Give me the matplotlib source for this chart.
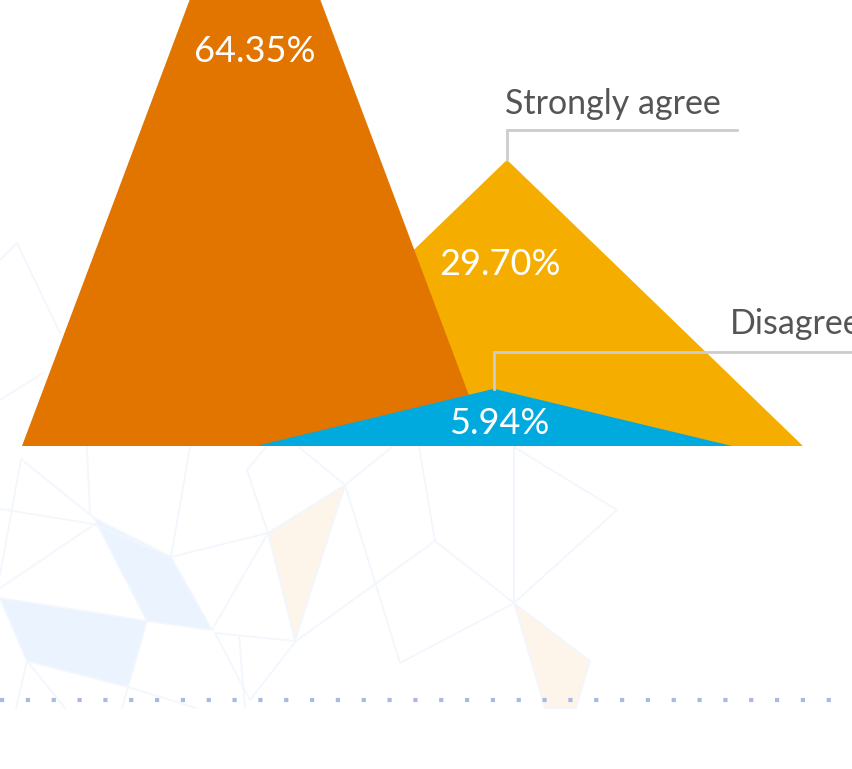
"""
Pointed-column chart (overlapping triangles) with faint polygon backdrop.
Output: out.png (853 x 769 px)
"""

import matplotlib
matplotlib.use("Agg")
import matplotlib.pyplot as plt
from matplotlib.patches import Polygon

# ── data ────────────────────────────────────────────────────────────────
CATEGORIES = ["Agree", "Strongly agree", "Disagree"]
VALUES     = [64.35, 29.70, 5.94]
LABELS     = ["64.35%", "29.70%", "5.94%"]
SHOW_NAME  = [False, True, True]

# ── layout (pixel-ish units on x, percent on y) ───────────────────────
W, H, DPI   = 853, 769, 100
BASE_PX     = 446            # baseline row in the picture
PX_PER_PCT  = 9.635          # column height scale
X_CENTER    = [255, 507, 494]
HALF_WIDTH  = [233, 296, 238]
LABEL_X     = [255, 500, 499]
LABEL_FRAC  = [0.641, 0.644, 0.445]   # label height as fraction of value
Z_ORDER     = [3, 2, 4]
NAME_ANCHOR = [None, (505, 104, 737, 130), (730, 324, 860, 352)]  # text x,y / line end x,y (px)

COLORS   = ["#E27400", "#F5AE00", "#00AADF"]
FONT     = ["Lato", "DejaVu Sans"]
LINE_COL = "#CCCCCC"
TEXT_COL = "#555555"
BG_LINE  = "#F2F7FD"
BG_BLUE  = "#EBF3FE"
BG_ORNG  = "#FDF4EA"
DOT_COL  = "#A9B9E6"

fig = plt.figure(figsize=(W / DPI, H / DPI), dpi=DPI)

# backdrop axes in pixel coordinates (y downwards)
bg = fig.add_axes([0, 0, 1, 1])
bg.set_xlim(0, W)
bg.set_ylim(H, 0)
bg.axis("off")

fills = [
    ([(0, 598), (147, 621), (128, 687), (27, 661)], BG_BLUE),
    ([(94, 518), (171, 557), (212, 630), (147, 621)], BG_BLUE),
    ([(268, 533), (345, 485), (295, 641)], BG_ORNG),
    ([(514, 603), (590, 661), (576, 708), (545, 708)], BG_ORNG),
]
for pts, col in fills:
    bg.add_patch(Polygon(pts, closed=True, facecolor=col, edgecolor=BG_LINE, lw=1.3, zorder=0))

segments = [
    [(0, 509), (94, 524), (171, 557), (268, 533), (212, 630)],
    [(21, 459), (94, 518)], [(21, 459), (0, 575)],
    [(87, 447), (90, 514)], [(190, 447), (171, 557)],
    [(247, 470), (268, 533)], [(247, 470), (266, 447)],
    [(345, 485), (299, 447)], [(345, 485), (392, 447)],
    [(345, 485), (400, 663), (514, 603)],
    [(514, 447), (514, 603)], [(514, 447), (617, 510), (514, 603)],
    [(435, 541), (514, 603)], [(435, 541), (419, 447)],
    [(435, 541), (296, 641), (215, 633), (250, 700), (296, 641)],
    [(239, 635), (245, 708)],
    [(95, 524), (0, 588)],
    [(27, 661), (16, 708)], [(27, 661), (65, 708)],
    [(128, 687), (196, 708)], [(128, 687), (122, 708)],
    [(0, 260), (17, 243), (60, 333)], [(0, 400), (43, 373)],
]
for seg in segments:
    xs, ys = zip(*seg)
    bg.plot(xs, ys, color=BG_LINE, lw=1.3, zorder=0, solid_capstyle="round")

bg.plot([0, W], [700, 700], color=DOT_COL, lw=3, ls=(0, (1, 5.2)), zorder=1)

# chart axes: x in px, y in percent with baseline at BASE_PX
ax = fig.add_axes([0, 0, 1, 1], facecolor="none")
ax.set_xlim(0, W)
ax.set_ylim(-(H - BASE_PX) / PX_PER_PCT, BASE_PX / PX_PER_PCT)
ax.axis("off")

for i, v in enumerate(VALUES):
    xc, hw = X_CENTER[i], HALF_WIDTH[i]
    tri = Polygon([(xc - hw, 0), (xc, v), (xc + hw, 0)], closed=True,
                  facecolor=COLORS[i], edgecolor="none", zorder=Z_ORDER[i])
    ax.add_patch(tri)
    ax.text(LABEL_X[i], v * LABEL_FRAC[i], LABELS[i], color="white",
            fontsize=26, family=FONT, ha="center", va="center_baseline",
            zorder=10)

# leader lines + category names (pixel axes on top)
top = fig.add_axes([0, 0, 1, 1], facecolor="none")
top.set_xlim(0, W)
top.set_ylim(H, 0)
top.axis("off")
for i, name in enumerate(CATEGORIES):
    if not SHOW_NAME[i]:
        continue
    tx, ty, lx, ly = NAME_ANCHOR[i]
    apex_px = BASE_PX - VALUES[i] * PX_PER_PCT
    xc = X_CENTER[i]
    top.plot([xc, xc, lx], [apex_px, ly, ly], color=LINE_COL, lw=2,
             solid_joinstyle="miter", zorder=5)
    top.text(tx, ty, name, color=TEXT_COL, fontsize=24.5, family=FONT,
             ha="left", va="center", zorder=6, clip_on=False)

fig.savefig("out.png", dpi=DPI)
